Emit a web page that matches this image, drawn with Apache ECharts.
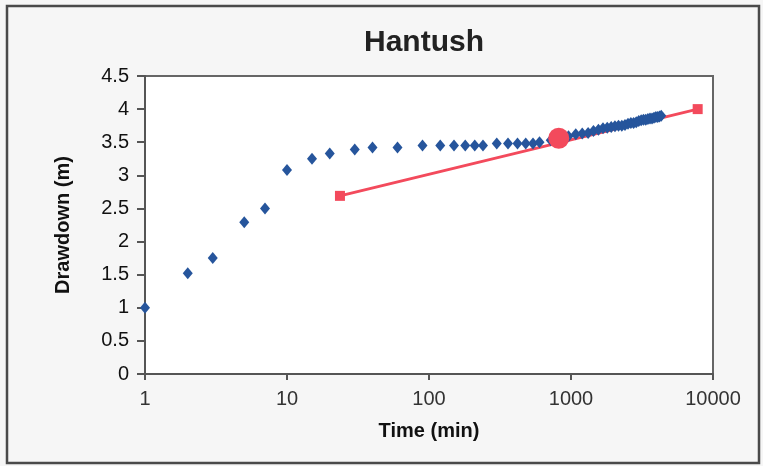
<!DOCTYPE html>
<html>
<head>
<meta charset="utf-8">
<script src="https://cdn.jsdelivr.net/npm/echarts@6/dist/echarts.min.js"></script>
<style>
html,body{margin:0;padding:0;background:#f6f6f6;}
#chart{width:763px;height:466px;}
</style>
</head>
<body>
<div id="chart"></div>
<script>
// Observed data (time in min, drawdown in m)
var obsTime = [1,2,3,5,7,10,15,20,30,40,60,90,120,150,180,210,240,300,360,420,480,540,600,
  720,840,960,1080,1200,1320,1440,1560,1680,1800,1920,2040,2160,2280,2400,2520,2640,2760,2880,
  3000,3120,3240,3360,3480,3600,3720,3840,3960,4080,4200,4320];
var obsDrawdown = [1.00,1.52,1.75,2.29,2.50,3.08,3.25,3.33,3.39,3.42,3.42,3.45,3.45,3.45,3.45,3.45,3.45,3.48,3.48,3.48,3.48,3.48,3.50,
  3.53,3.56,3.59,3.62,3.63,3.64,3.67,3.69,3.71,3.72,3.73,3.74,3.75,3.75,3.76,3.78,3.79,3.79,3.80,
  3.82,3.83,3.84,3.84,3.85,3.86,3.86,3.87,3.88,3.88,3.89,3.90];
// Fitted straight line
var fitTime = [23.6, 7800];
var fitDrawdown = [2.69, 4.00];
// Match point
var matchTime = [820];
var matchDrawdown = [3.56];
// Tick labels
var xTickLabels = ['1','10','100','1000','10000'];
var yTickLabels = ['0','0.5','1','1.5','2','2.5','3','3.5','4','4.5'];

function pairs(xs, ys){ return xs.map(function(x,i){ return [x, ys[i]]; }); }

var FONT = "'Liberation Sans', Arial, sans-serif";
var chart = echarts.init(document.getElementById('chart'), null, {renderer:'canvas'});
chart.setOption({
  backgroundColor: '#f6f6f6',
  animation: false,
  title: {
    text: 'Hantush',
    left: 419, top: 23, textAlign: 'center',
    textStyle: {fontFamily: FONT, fontSize: 30, fontWeight: 'bold', color: '#222'}
  },
  graphic: [{
    type: 'rect', z: 100, silent: true,
    shape: {x: 7, y: 6, width: 752, height: 457},
    style: {fill: 'none', stroke: '#4a4a4a', lineWidth: 2.5}
  }],
  grid: {
    left: 145, top: 76, right: 50, bottom: 92,
    show: true, backgroundColor: '#ffffff', borderColor: '#666', borderWidth: 2
  },
  xAxis: {
    type: 'log', logBase: 10, min: 1, max: 10000,
    name: 'Time (min)', nameLocation: 'middle', nameGap: 47,
    nameTextStyle: {fontFamily: FONT, fontSize: 20, fontWeight: 'bold', color: '#111'},
    axisLine: {lineStyle: {color: '#555', width: 2}},
    axisTick: {show: true, length: 6, lineStyle: {color: '#555', width: 2}},
    minorTick: {show: false},
    splitLine: {show: false},
    axisLabel: {
      margin: 15, fontFamily: FONT, fontSize: 20, color: '#333',
      formatter: function(v){
        var i = Math.round(Math.log(v)/Math.LN10);
        return xTickLabels[i] !== undefined ? xTickLabels[i] : '';
      }
    }
  },
  yAxis: {
    type: 'value', min: 0, max: 4.5, interval: 0.5,
    name: 'Drawdown (m)', nameLocation: 'middle', nameGap: 72, nameRotate: 90,
    nameTextStyle: {fontFamily: FONT, fontSize: 20, fontWeight: 'bold', color: '#111'},
    axisLine: {show: true, lineStyle: {color: '#555', width: 2}},
    axisTick: {show: true, length: 8, lineStyle: {color: '#555', width: 2}},
    splitLine: {show: false},
    axisLabel: {
      margin: 16, fontFamily: FONT, fontSize: 20, color: '#111',
      formatter: function(v){
        var i = Math.round(v/0.5);
        return yTickLabels[i] !== undefined ? yTickLabels[i] : '';
      }
    }
  },
  series: [
    {
      type: 'line', name: 'Fit', z: 2,
      data: pairs(fitTime, fitDrawdown),
      symbol: 'rect', symbolSize: 10, showSymbol: true,
      lineStyle: {color: '#f34a5c', width: 3},
      itemStyle: {color: '#f34a5c', opacity: 1}
    },
    {
      type: 'scatter', name: 'Observed', z: 3,
      data: pairs(obsTime, obsDrawdown),
      symbol: 'diamond', symbolSize: [10, 12],
      itemStyle: {color: '#26559c', opacity: 1}
    },
    {
      type: 'scatter', name: 'Match', z: 4,
      data: pairs(matchTime, matchDrawdown),
      symbol: 'circle', symbolSize: 21,
      itemStyle: {color: '#f34a5c', opacity: 1}
    }
  ]
});
</script>
</body>
</html>
